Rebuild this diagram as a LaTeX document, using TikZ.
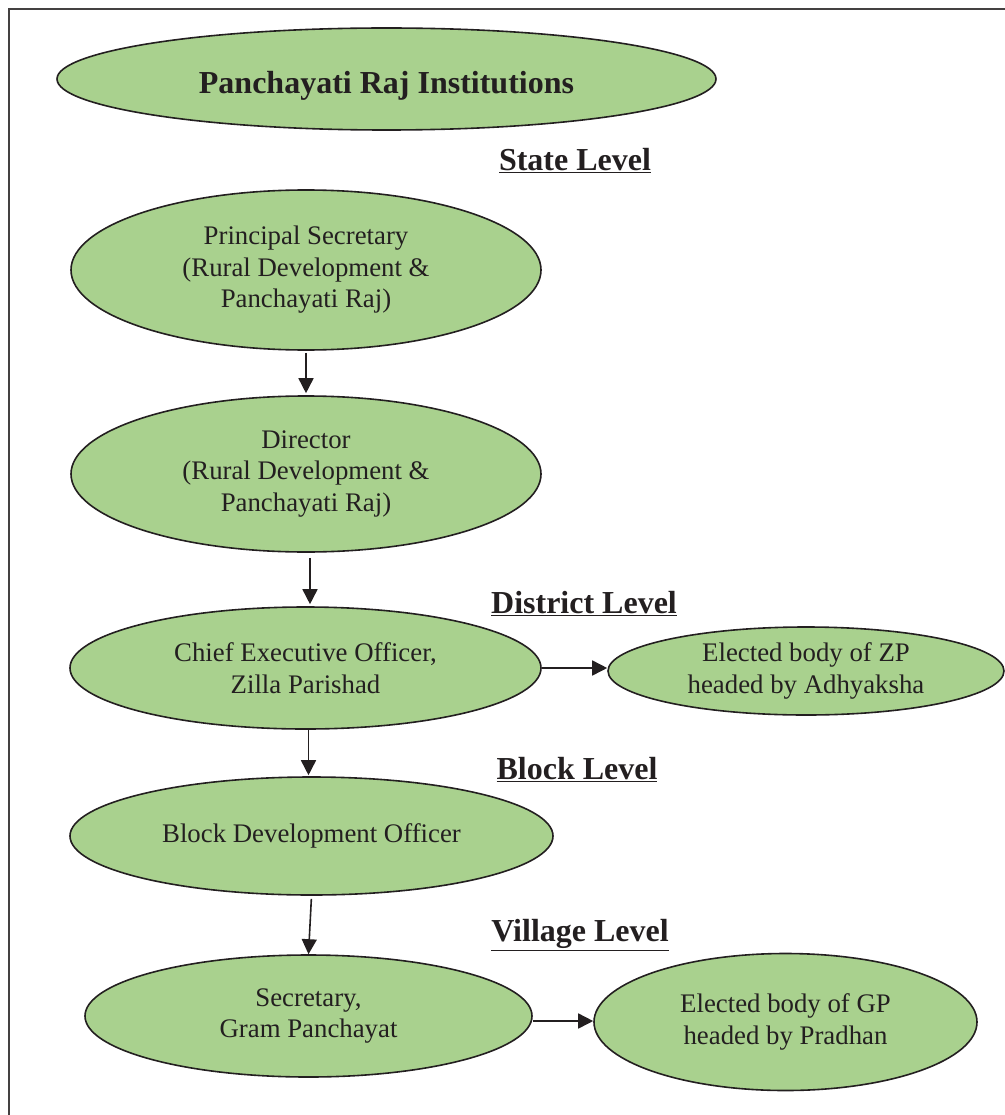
\documentclass[tikz,border=0pt]{standalone}
\usepackage{fontspec}
\setmainfont{Liberation Serif}
\usetikzlibrary{shapes.geometric,arrows.meta}
\definecolor{leaf}{RGB}{169,209,142}
\definecolor{ink}{RGB}{35,31,32}
\begin{document}
\begin{tikzpicture}[x=1pt,y=-1pt,
  oval/.style={ellipse,draw=ink,line width=1.6pt,fill=leaf,inner sep=0pt,
    align=center,text=ink,font=\fontsize{26.8}{31.5}\selectfont},
  level/.style={text=ink,font=\fontsize{32}{34}\selectfont\bfseries},
  arr/.style={-{Triangle[length=15pt,width=15pt]},line width=1.6pt,draw=ink}]
\useasboundingbox (0,0) rectangle (1004,1115);
% outer frame, cut off at the right and bottom
\draw[line width=2pt,draw=ink!85] (9,1120) -- (9,9) -- (1010,9);

\node[oval,minimum width=659pt,minimum height=102pt] (pri) at (386.5,79) {};
\node[text=ink,font=\fontsize{32}{34}\selectfont\bfseries] (prit) at (386.5,86) {Panchayati Raj Institutions};

\node[level] (state) at (575,161) {\underline{State Level}};
\node[oval,minimum width=470pt,minimum height=160pt] (ps) at (306,270)
  {Principal Secretary\\(Rural Development \&\\Panchayati Raj)};
\node[oval,minimum width=470pt,minimum height=156pt] (dir) at (306,474)
  {Director\\(Rural Development \&\\Panchayati Raj)};

\node[level] (district) at (584,604) {\underline{District Level}};
\node[oval,minimum width=471pt,minimum height=122pt] (ceo) at (305.5,668)
  {Chief Executive Officer,\\Zilla Parishad};
\node[oval,minimum width=396pt,minimum height=88pt] (zp) at (806,671)
  {Elected body of ZP\\headed by Adhyaksha};

\node[level] (block) at (577,770) {\underline{Block Level}};
\node[oval,minimum width=483pt,minimum height=118pt] (bdo) at (311.5,836)
  {Block Development Officer};

\node[level] (village) at (580,935) {\underline{Village Level}};
\node[oval,minimum width=447pt,minimum height=122pt] (sec) at (308.5,1016)
  {Secretary,\\Gram Panchayat};
\node[oval,minimum width=383pt,minimum height=137pt] (gp) at (785.5,1022)
  {Elected body of GP\\headed by Pradhan};

\draw[arr,shorten <=2pt,shorten >=2pt] (ps.south) -- (dir.north);
\draw[arr,shorten <=5pt,shorten >=2pt] ([xshift=4pt]dir.south) -- ([xshift=4pt]dir.south |- ceo.north);
\draw[arr] (ceo.east) -- (ceo.east -| zp.west);
\draw[arr,shorten >=1pt] ([xshift=3pt]ceo.south) -- ([xshift=3pt]ceo.south |- bdo.north);
\draw[arr,shorten <=3pt] (bdo.south) -- (sec.north);
\draw[arr] ([yshift=-5pt]sec.east) -- ([yshift=-5pt]sec.east -| gp.west);
\end{tikzpicture}
\end{document}
